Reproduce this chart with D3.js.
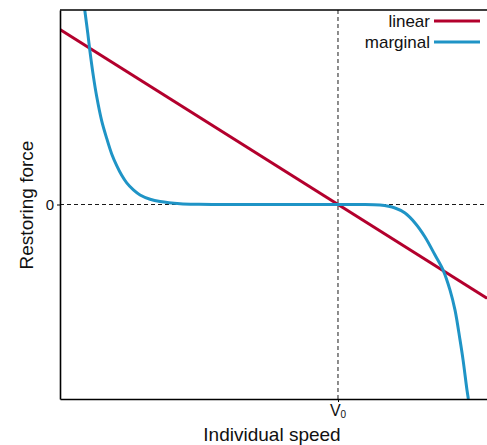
<!DOCTYPE html>
<html><head><meta charset="utf-8">
<script src="https://cdn.jsdelivr.net/npm/d3@7"></script>
<style>body{margin:0;background:#fff}svg{display:block}text{font-family:"Liberation Sans",Arial,sans-serif;fill:#111}</style>
</head><body>
<script>
// Data (speed in units of V0, force normalized)
const linearSpeed = [0, 1.536];
const linearForce = [0.9, -0.482];
const marginalSpeed = [0.089, 0.100, 0.108, 0.120, 0.132, 0.150, 0.168, 0.186, 0.204, 0.222, 0.240, 0.264, 0.288, 0.324, 0.360, 0.432, 0.500, 0.576, 1.0, 1.079, 1.151, 1.205, 1.241, 1.277, 1.313, 1.349, 1.378, 1.403, 1.421, 1.439, 1.450, 1.464, 1.469];
const marginalForce = [1.0, 0.88, 0.785, 0.66, 0.555, 0.43, 0.34, 0.26, 0.200, 0.150, 0.111, 0.075, 0.049, 0.027, 0.015, 0.004, 0.001, 0, 0, 0, -0.003, -0.018, -0.044, -0.095, -0.167, -0.260, -0.337, -0.440, -0.543, -0.697, -0.800, -0.954, -1.0];
const xTickValues = [1.0];
const xTickLabels = ["V"];
const yTickValues = [0];
const yTickLabels = ["0"];
const seriesNames = ["linear", "marginal"];
const seriesColors = ["#b3002d", "#1f94c6"];

(function () {
const W = 487, H = 445;
const svg = d3.select("body").append("svg").attr("width", W).attr("height", H);
const mLeft = 60, mTop = 10, mBottom = 399, mRight = 487;
const x = d3.scaleLinear().domain([0, 1.536]).range([mLeft, mRight]);
const y = d3.scaleLinear().domain([-1, 1]).range([mBottom, mTop]);

svg.append("defs").append("clipPath").attr("id", "c")
  .append("rect").attr("x", mLeft).attr("y", mTop).attr("width", mRight - mLeft).attr("height", mBottom - mTop);

// dashed reference lines
svg.append("line").attr("x1", mLeft).attr("x2", mRight).attr("y1", y(0)).attr("y2", y(0))
  .attr("stroke", "#000").attr("stroke-width", 0.9).attr("stroke-dasharray", "4,3");
svg.append("line").attr("x1", x(1)).attr("x2", x(1)).attr("y1", mTop).attr("y2", mBottom)
  .attr("stroke", "#000").attr("stroke-width", 0.9).attr("stroke-dasharray", "4,3");

const line = d3.line().x(d => x(d[0])).y(d => y(d[1])).curve(d3.curveCatmullRom.alpha(0.5));
const g = svg.append("g").attr("clip-path", "url(#c)");
g.append("path").datum(linearSpeed.map((v, i) => [v, linearForce[i]]))
  .attr("d", line).attr("fill", "none").attr("stroke", seriesColors[0]).attr("stroke-width", 3);
g.append("path").datum(marginalSpeed.map((v, i) => [v, marginalForce[i]]))
  .attr("d", line).attr("fill", "none").attr("stroke", seriesColors[1]).attr("stroke-width", 3);

// axes
const xAxis = d3.axisBottom(x).tickValues(xTickValues).tickFormat(() => "").tickSize(3).tickSizeOuter(0);
const yAxis = d3.axisLeft(y).tickValues(yTickValues).tickFormat(() => "").tickSize(3).tickSizeOuter(0);
const gx = svg.append("g").attr("transform", `translate(0,${mBottom})`).call(xAxis);
const gy = svg.append("g").attr("transform", `translate(${mLeft},0)`).call(yAxis);
gx.select(".domain").attr("stroke", "#000").attr("stroke-width", 1.6);
gy.select(".domain").attr("stroke", "#000").attr("stroke-width", 1.6);
// top border
svg.append("line").attr("x1", mLeft).attr("x2", mRight).attr("y1", mTop).attr("y2", mTop)
  .attr("stroke", "#000").attr("stroke-width", 1.6);

// tick labels
xTickValues.forEach((v, i) => {
  const t = svg.append("text").attr("x", x(v)).attr("y", mBottom + 17).attr("text-anchor", "middle")
    .attr("font-size", 16);
  t.append("tspan").text(xTickLabels[i]);
  t.append("tspan").attr("font-size", 10).attr("dy", 2).text("0");
});
yTickValues.forEach((v, i) => {
  svg.append("text").attr("x", mLeft - 6).attr("y", y(v) + 5).attr("text-anchor", "end")
    .attr("font-size", 15).text(yTickLabels[i]);
});

// axis titles
svg.append("text").attr("x", 272).attr("y", 441).attr("text-anchor", "middle")
  .attr("font-size", 19).text("Individual speed");
svg.append("text").attr("transform", `translate(33,205) rotate(-90)`).attr("text-anchor", "middle")
  .attr("font-size", 19).text("Restoring force");

// legend
seriesNames.forEach((n, i) => {
  const ly = 21 + i * 21;
  svg.append("text").attr("x", 430).attr("y", ly + 6).attr("text-anchor", "end")
    .attr("font-size", 17).text(n);
  svg.append("line").attr("x1", 434).attr("x2", 480).attr("y1", ly).attr("y2", ly)
    .attr("stroke", seriesColors[i]).attr("stroke-width", 3);
});
})();
</script>
</body></html>
